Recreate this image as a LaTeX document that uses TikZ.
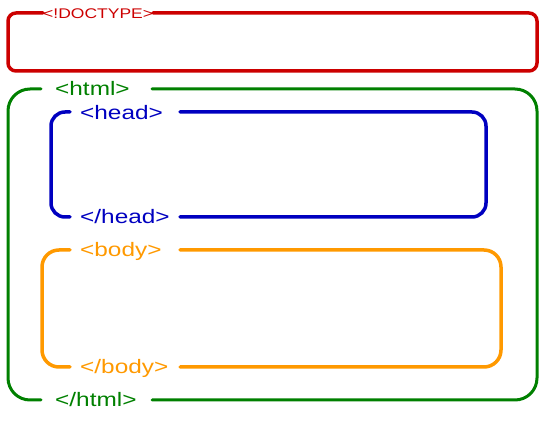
\documentclass[tikz,border=0pt]{standalone}
\usepackage{fontspec}
\newfontfamily\tagfont[FakeStretch=1.25]{Liberation Sans}
\usetikzlibrary{positioning}

\definecolor{docred}{HTML}{CC0000}
\definecolor{htmlgreen}{HTML}{008000}
\definecolor{headblue}{HTML}{0000C0}
\definecolor{bodyorange}{HTML}{FF9900}

\begin{document}
\begin{tikzpicture}[x=1pt, y=-1pt,
    box/.style={line width=3.5pt, line cap=round},
    tag/.style={anchor=base west, inner sep=0pt, font=\tagfont\fontsize{19.5}{20}\selectfont},
    small/.style={anchor=base west, inner sep=0pt, font=\tagfont\fontsize{14}{15}\selectfont}
]
\useasboundingbox (0,0) rectangle (549,427);

% labels
\node[small, text=docred] (doc) at (43,18.5) {<!DOCTYPE>};
\node[tag, text=htmlgreen] (htmlo) at (55,96) {<html>};
\node[tag, text=htmlgreen] (htmlc) at (55,407) {</html>};
\node[tag, text=headblue] (heado) at (80,120) {<head>};
\node[tag, text=headblue] (headc) at (80,224) {</head>};
\node[tag, text=bodyorange] (bodyo) at (80,257) {<body>};
\node[tag, text=bodyorange] (bodyc) at (80,374) {</body>};

% boxes
\draw[box, docred, rounded corners=8] (153,13) -- (537,13) -- (537,71) -- (8,71) -- (8,13) -- (43,13);
\draw[box, htmlgreen, line width=3pt, rounded corners=22] (152,89) -- (537,89) -- (537,400) -- (152,400);
\draw[box, htmlgreen, line width=3pt, rounded corners=22] (41,400) -- (8,400) -- (8,89) -- (41,89);
\draw[box, headblue, rounded corners=14] (180,112) -- (486,112) -- (486,217) -- (180,217);
\draw[box, headblue, rounded corners=14] (70,217) -- (51,217) -- (51,112) -- (70,112);
\draw[box, bodyorange, rounded corners=17] (180,250) -- (501,250) -- (501,367) -- (180,367);
\draw[box, bodyorange, rounded corners=17] (70,367) -- (42,367) -- (42,250) -- (70,250);
\end{tikzpicture}
\end{document}
